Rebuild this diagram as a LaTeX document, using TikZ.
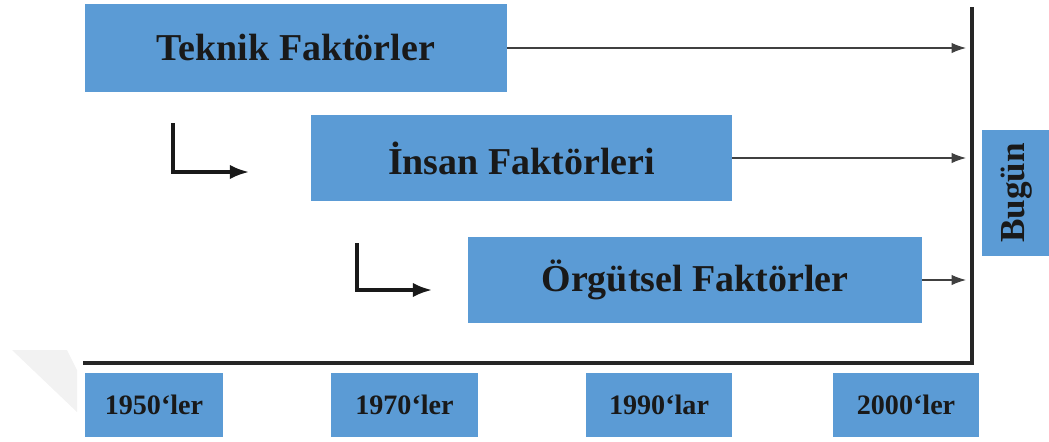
\documentclass[tikz,border=0pt]{standalone}
\usepackage{fontspec}
\setmainfont{Liberation Serif}
\usepackage{tikz}
\usetikzlibrary{arrows.meta}

\definecolor{boxblue}{RGB}{91,155,213}

\tikzset{
  factor/.style={fill=boxblue, text=black!90, minimum height=2.15cm, inner sep=0pt,
    font=\fontsize{27}{30}\selectfont\bfseries},
  decade/.style={fill=boxblue, text=black!90, minimum height=1.6cm, inner sep=0pt,
    font=\fontsize{20}{22}\selectfont\bfseries},
  thinarrow/.style={-{Latex[length=3.6mm,width=2.6mm]}, black!75, line width=0.8pt},
  stepline/.style={-{Latex[length=4.8mm,width=3.6mm]}, black!90, line width=2.2pt}
}

\begin{document}
\begin{tikzpicture}[x=0.025cm, y=-0.025cm]
  \useasboundingbox (0,0) rectangle (1049,441);
  \fill[black!5] (12,350) -- (67,350) -- (77,370) -- (77,412) -- cycle;

  \node[factor, minimum width=10.55cm, minimum height=2.2cm] (T) at (296,48) {Teknik Faktörler};
  \node[factor, minimum width=10.525cm] (I) at (521.5,158) {İnsan Faktörleri};
  \node[factor, minimum width=11.35cm] (O) at (695,280) {Örgütsel Faktörler};
  \node[factor, rotate=90, minimum width=3.15cm, minimum height=1.75cm,
    font=\fontsize{25}{28}\selectfont\bfseries] (B) at (1017,193) {Bugün};

  \node[decade, minimum width=3.45cm] (Y1) at (154,405) {1950`ler};
  \node[decade, minimum width=3.675cm] (Y2) at (404.5,405) {1970`ler};
  \node[decade, minimum width=3.65cm] (Y3) at (659,405) {1990`lar};
  \node[decade, minimum width=3.65cm] (Y4) at (906,405) {2000`ler};

  % time axes
  \coordinate (top) at (972,7);
  \coordinate (corner) at (972,363);
  \coordinate (start) at (83,363);
  \coordinate (tip) at (966,0);
  \draw[line width=2.4pt, black!85] (top) -- (corner) -- (start);

  \draw[thinarrow] (T.east) -- (T.east -| tip);
  \draw[thinarrow] (I.east) -- (I.east -| tip);
  \draw[thinarrow] (O.east) -- (O.east -| tip);

  % steps
  \coordinate (s1) at (173,123);
  \coordinate (e1) at (249,172);
  \coordinate (s2) at (357,243);
  \coordinate (e2) at (432,290);
  \draw[stepline] (s1) |- (e1);
  \draw[stepline] (s2) |- (e2);
\end{tikzpicture}
\end{document}
